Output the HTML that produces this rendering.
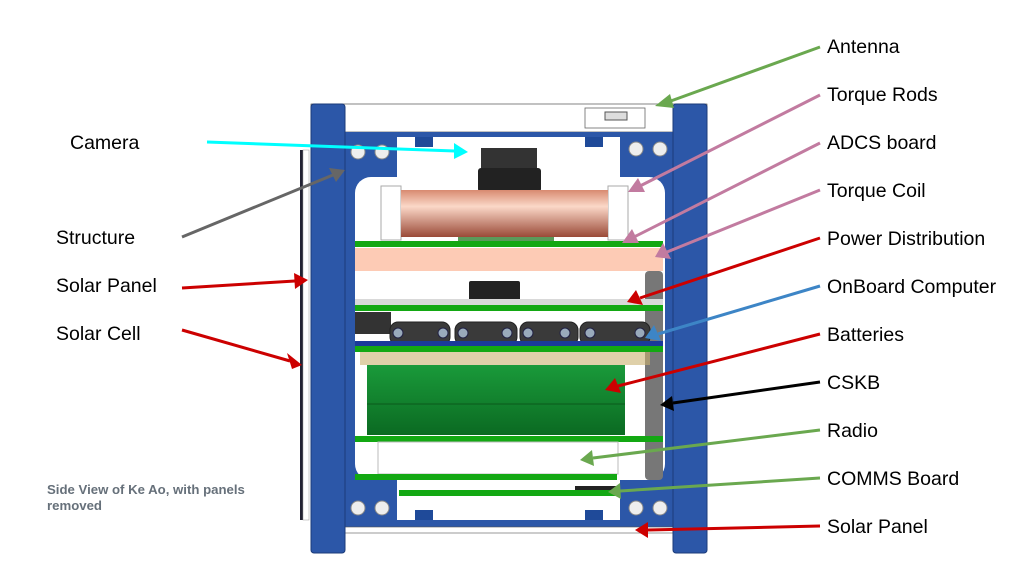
<!DOCTYPE html>
<html><head><meta charset="utf-8"><style>
html,body{margin:0;padding:0;background:#fff;}
svg{display:block;font-family:"Liberation Sans",sans-serif;}
</style></head><body>
<svg width="1023" height="563" viewBox="0 0 1023 563" xmlns="http://www.w3.org/2000/svg">
<defs>
<linearGradient id="cu" x1="0" y1="0" x2="0" y2="1"><stop offset="0" stop-color="#d88a70"/><stop offset="0.35" stop-color="#fbd8c8"/><stop offset="1" stop-color="#9a4a38"/></linearGradient>
<linearGradient id="bat" x1="0" y1="0" x2="0" y2="1"><stop offset="0" stop-color="#1a9a3a"/><stop offset="1" stop-color="#0b6a22"/></linearGradient>
</defs>
<rect x="300" y="150" width="3" height="370" fill="#223"/>
<rect x="303" y="150" width="6" height="370" fill="#fff" stroke="#999" stroke-width="0.5"/>
<rect x="311" y="137" width="396" height="383" fill="#2c57a8"/>
<rect x="397" y="137" width="223" height="40" fill="#fff"/>
<rect x="397" y="480" width="223" height="40" fill="#fff"/>
<rect x="355" y="177" width="310" height="303" rx="16" fill="#fff"/>
<rect x="311" y="104" width="396" height="28" fill="#fff" stroke="#333" stroke-width="0.6"/>
<rect x="311" y="132" width="396" height="5" fill="#2c57a8"/>
<rect x="311" y="520" width="396" height="7" fill="#2c57a8"/>
<rect x="345" y="527" width="330" height="6" fill="#fff" stroke="#555" stroke-width="0.6"/>
<rect x="311" y="104" width="34" height="449" rx="3" fill="#2c57a8" stroke="#1b3b7a"/>
<rect x="673" y="104" width="34" height="449" rx="3" fill="#2c57a8" stroke="#1b3b7a"/>
<g fill="#eee" stroke="#888">
<circle cx="358" cy="152" r="7"/><circle cx="382" cy="152" r="7"/>
<circle cx="636" cy="149" r="7"/><circle cx="660" cy="149" r="7"/>
<circle cx="358" cy="508" r="7"/><circle cx="382" cy="508" r="7"/>
<circle cx="636" cy="508" r="7"/><circle cx="660" cy="508" r="7"/>
</g>
<g fill="#1f4a99"><rect x="415" y="137" width="18" height="10"/><rect x="585" y="137" width="18" height="10"/><rect x="415" y="510" width="18" height="10"/><rect x="585" y="510" width="18" height="10"/></g>
<rect x="585" y="108" width="60" height="20" fill="none" stroke="#666" stroke-width="0.8"/>
<rect x="605" y="112" width="22" height="8" fill="#ddd" stroke="#555"/>
<rect x="481" y="148" width="56" height="22" fill="#333"/>
<rect x="478" y="168" width="63" height="24" rx="3" fill="#222"/>
<rect x="381" y="186" width="20" height="54" fill="#fff" stroke="#aaa"/>
<rect x="608" y="186" width="20" height="54" fill="#fff" stroke="#aaa"/>
<rect x="401" y="190" width="207" height="47" fill="url(#cu)"/>
<rect x="458" y="237" width="96" height="5" fill="#5a9a5a"/>
<rect x="355" y="241" width="308" height="6" fill="#13a813"/>
<rect x="355" y="248" width="308" height="23" fill="#fdcbb5"/>
<rect x="645" y="271" width="18" height="209" rx="4" fill="#777"/>
<rect x="469" y="281" width="51" height="24" rx="2" fill="#222"/>
<rect x="355" y="299" width="308" height="6" fill="#d9d9d9"/>
<rect x="355" y="305" width="308" height="6" fill="#13a813"/>
<rect x="355" y="312" width="36" height="22" fill="#333"/>
<g fill="#3a3a3a" stroke="#222">
<rect x="390" y="322" width="60" height="23" rx="8"/>
<rect x="455" y="322" width="62" height="23" rx="8"/>
<rect x="520" y="322" width="58" height="23" rx="8"/>
<rect x="580" y="322" width="70" height="23" rx="8"/>
</g>
<g fill="#9ab" stroke="#224"><circle cx="398" cy="333" r="5"/><circle cx="443" cy="333" r="5"/><circle cx="463" cy="333" r="5"/><circle cx="507" cy="333" r="5"/><circle cx="528" cy="333" r="5"/><circle cx="565" cy="333" r="5"/><circle cx="590" cy="333" r="5"/><circle cx="640" cy="333" r="5"/></g>
<rect x="355" y="341" width="308" height="5" fill="#1a3a9a"/>
<rect x="355" y="346" width="308" height="6" fill="#13a813"/>
<rect x="360" y="352" width="290" height="13" fill="#c9b070" opacity="0.6"/>
<rect x="367" y="365" width="258" height="70" fill="url(#bat)"/>
<line x1="367" y1="404" x2="625" y2="404" stroke="#0a5a1c"/>
<rect x="355" y="436" width="308" height="6" fill="#13a813"/>
<rect x="378" y="442" width="240" height="32" fill="#fff" stroke="#bbb"/>
<rect x="355" y="474" width="262" height="6" fill="#13a813"/>
<rect x="399" y="490" width="221" height="6" fill="#13a813"/>
<rect x="575" y="486" width="45" height="4" fill="#222"/>
<g stroke-width="3" fill="none">
<line x1="820" y1="47" x2="668" y2="102" stroke="#6aa84f"/>
<line x1="820" y1="95" x2="640" y2="186" stroke="#c27ba0"/>
<line x1="820" y1="143" x2="634" y2="237" stroke="#c27ba0"/>
<line x1="820" y1="190" x2="667" y2="252" stroke="#c27ba0"/>
<line x1="820" y1="238" x2="640" y2="298" stroke="#cc0000"/>
<line x1="820" y1="286" x2="658" y2="334" stroke="#3d85c6"/>
<line x1="820" y1="334" x2="618" y2="386" stroke="#cc0000"/>
<line x1="820" y1="382" x2="673" y2="403" stroke="#000"/>
<line x1="820" y1="430" x2="593" y2="458" stroke="#6aa84f"/>
<line x1="820" y1="478" x2="620" y2="491" stroke="#6aa84f"/>
<line x1="820" y1="526" x2="648" y2="530" stroke="#cc0000"/>
<line x1="207" y1="142" x2="455" y2="151" stroke="#00ffff"/>
<line x1="182" y1="237" x2="333" y2="175" stroke="#666"/>
<line x1="182" y1="288" x2="295" y2="281" stroke="#cc0000"/>
<line x1="182" y1="330" x2="290" y2="361" stroke="#cc0000"/>
</g>
<g>
<polygon points="655,106 670,94 674,108" fill="#6aa84f"/>
<polygon points="628,192 638,178 645,192" fill="#c27ba0"/>
<polygon points="622,243 632,229 639,243" fill="#c27ba0"/>
<polygon points="655,257 663,243 671,259" fill="#c27ba0"/>
<polygon points="627,302 636,290 643,305" fill="#cc0000"/>
<polygon points="645,338 654,325 661,341" fill="#3d85c6"/>
<polygon points="605,390 615,378 621,393" fill="#cc0000"/>
<polygon points="660,405 672,396 674,411" fill="#000"/>
<polygon points="580,460 592,450 594,466" fill="#6aa84f"/>
<polygon points="608,492 620,483 621,499" fill="#6aa84f"/>
<polygon points="635,530 648,522 648,538" fill="#cc0000"/>
<polygon points="468,152 454,143 454,159" fill="#00ffff"/>
<polygon points="345,170 329,168 336,182" fill="#666"/>
<polygon points="308,280 294,273 295,289" fill="#cc0000"/>
<polygon points="302,365 287,353 292,369" fill="#cc0000"/>
</g>
<g font-size="19.5" fill="#000">
<text x="827" y="53">Antenna</text>
<text x="827" y="101">Torque Rods</text>
<text x="827" y="149">ADCS board</text>
<text x="827" y="197">Torque Coil</text>
<text x="827" y="245">Power Distribution</text>
<text x="827" y="293">OnBoard Computer</text>
<text x="827" y="341">Batteries</text>
<text x="827" y="389">CSKB</text>
<text x="827" y="437">Radio</text>
<text x="827" y="485">COMMS Board</text>
<text x="827" y="533">Solar Panel</text>
<text x="70" y="149">Camera</text>
<text x="56" y="244">Structure</text>
<text x="56" y="292">Solar Panel</text>
<text x="56" y="340">Solar Cell</text>
</g>
<g font-size="13.2" font-weight="bold" fill="#66707a">
<text x="47" y="494">Side View of Ke Ao, with panels</text>
<text x="47" y="510">removed</text>
</g>
</svg>
</body></html>
